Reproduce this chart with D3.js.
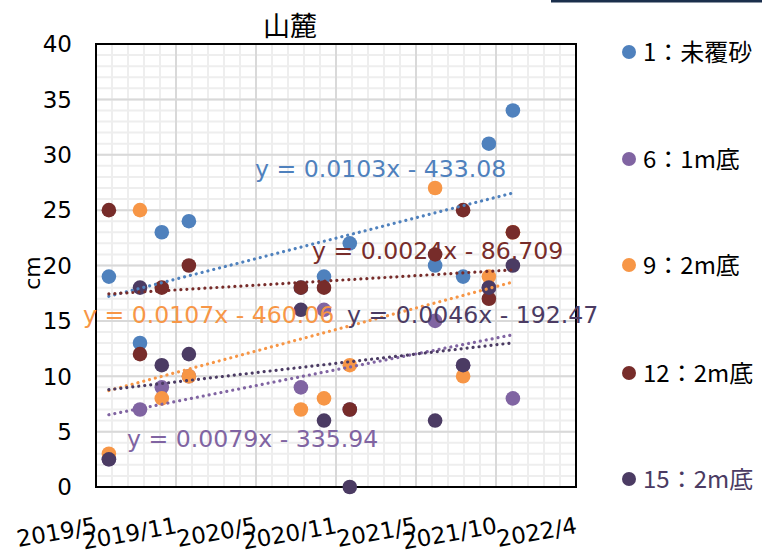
<!DOCTYPE html>
<html>
<head>
<meta charset="utf-8">
<script src="https://cdn.jsdelivr.net/npm/d3@7"></script>
<style>
  html, body { margin: 0; padding: 0; background: #fff; }
  svg { display: block; }
</style>
</head>
<body>
<svg id="chart" width="762" height="554"></svg>
<script>
// ---- data ----
const dates = ["2019-06-11","2019-08-20","2019-10-08","2019-12-08","2020-08-16","2020-10-07",
               "2020-12-04","2021-06-14","2021-08-16","2021-10-13","2021-12-06"];
const s1  = [19, 13, 23, 24, 18, 19, 22, 20, 19, 31, 34];
const s6  = [2.5, 7, 9, 10, 9, 16, 7, 15, 11, 18, 8];
const s9  = [3, 25, 8, 10, 7, 8, 11, 27, 10, 19, 23];
const s12 = [25, 12, 18, 20, 18, 18, 7, 21, 25, 17, 23];
const s15 = [2.5, 18, 11, 12, 16, 6, 0, 6, 11, 18, 20];
const seriesNames = ["1：未覆砂", "6：1m底", "9：2m底", "12：2m底", "15：2m底"];
const equations = ["y = 0.0103x - 433.08", "y = 0.0079x - 335.94", "y = 0.0107x - 460.06",
                   "y = 0.0024x - 86.709", "y = 0.0046x - 192.47"];
const xTickDates = ["2019-05-13","2019-11-09","2020-05-07","2020-11-03","2021-05-02","2021-10-29","2022-04-27"];
const xTickLabels = ["2019/5","2019/11","2020/5","2020/11","2021/5","2021/10","2022/4"];
const yTicks = [0, 5, 10, 15, 20, 25, 30, 35, 40];
const title = "山麓";
const yTitle = "cm";

// ---- layout ----
const colors = ["#4f81bd", "#8064a2", "#f79646", "#772c2a", "#4b3b63"];
const legendTextColors = ["#000", "#000", "#000", "#000", "#4b3b63"];
const L = 96, R = 576, T = 44, B = 487;
const svg = d3.select("#chart");
svg.append("rect").attr("width", 762).attr("height", 554).attr("fill", "#fff");

const parse = d3.utcParse("%Y-%m-%d");
const tickD = xTickDates.map(parse);
const x = d3.scaleUtc().domain([tickD[0], tickD[tickD.length - 1]]).range([L, R]);
const y = d3.scaleLinear().domain([0, 40]).range([B, T]);

// minor grid
const minorX = d3.utcDay.range(tickD[0], d3.utcDay.offset(tickD[tickD.length - 1], 1), 1)
  .filter((d, i) => i % 36 === 0);
const g = svg.append("g");
g.selectAll(".mx").data(minorX).enter().append("line")
  .attr("x1", d => x(d)).attr("x2", d => x(d)).attr("y1", T).attr("y2", B)
  .attr("stroke", "#eeeeee").attr("stroke-width", 2);
g.selectAll(".my").data(d3.range(0, 41, 1)).enter().append("line")
  .attr("x1", L).attr("x2", R).attr("y1", d => y(d)).attr("y2", d => y(d))
  .attr("stroke", "#eeeeee").attr("stroke-width", 2);
// major grid
g.selectAll(".Mx").data(tickD).enter().append("line")
  .attr("x1", d => x(d)).attr("x2", d => x(d)).attr("y1", T).attr("y2", B)
  .attr("stroke", "#d9d9d9").attr("stroke-width", 2);
g.selectAll(".My").data(yTicks).enter().append("line")
  .attr("x1", L).attr("x2", R).attr("y1", d => y(d)).attr("y2", d => y(d))
  .attr("stroke", "#d9d9d9").attr("stroke-width", 2);

// plot border
svg.append("rect").attr("x", L).attr("y", T).attr("width", R - L).attr("height", B - T)
  .attr("fill", "none").attr("stroke", "#000").attr("stroke-width", 2);

// y tick labels
svg.selectAll(".yt").data(yTicks).enter().append("text")
  .attr("x", 72).attr("y", d => y(d)).attr("dy", "0.36em")
  .attr("text-anchor", "end").attr("font-family", "DejaVu Sans").attr("font-size", 23)
  .attr("fill", "#000").text(d => d);

// x tick labels (rotated)
svg.selectAll(".xt").data(tickD).enter().append("text")
  .attr("transform", d => `translate(${x(d) + 2},533) rotate(-10)`)
  .attr("text-anchor", "end").attr("font-family", "DejaVu Sans").attr("font-size", 23)
  .attr("fill", "#000").text((d, i) => xTickLabels[i]);

// titles
svg.append("text").attr("x", 290).attr("y", 36).attr("text-anchor", "middle")
  .attr("font-family", "Noto Sans CJK JP").attr("font-size", 27).attr("fill", "#000").text(title);
svg.append("text").attr("transform", "translate(40,273) rotate(-90)").attr("text-anchor", "middle")
  .attr("font-family", "DejaVu Sans").attr("font-size", 22).attr("fill", "#000").text(yTitle);

// series
const allSeries = [s1, s6, s9, s12, s15];
const xd = dates.map(parse);
allSeries.forEach((vals, si) => {
  svg.append("g").selectAll("circle").data(vals).enter().append("circle")
    .attr("cx", (d, i) => x(xd[i])).attr("cy", d => y(d)).attr("r", 7.3)
    .attr("fill", colors[si]);
});

// trendlines (least squares)
allSeries.forEach((vals, si) => {
  const xs = xd.map(d => d.getTime() / 86400000);
  const n = xs.length;
  const mx = d3.mean(xs), my = d3.mean(vals);
  let sxy = 0, sxx = 0;
  for (let i = 0; i < n; i++) { sxy += (xs[i] - mx) * (vals[i] - my); sxx += (xs[i] - mx) ** 2; }
  const b = sxy / sxx, a = my - b * mx;
  const x0 = d3.min(xs), x1 = d3.max(xs);
  svg.append("line")
    .attr("x1", x(new Date(x0 * 86400000))).attr("y1", y(a + b * x0))
    .attr("x2", x(new Date(x1 * 86400000))).attr("y2", y(a + b * x1))
    .attr("stroke", colors[si]).attr("stroke-width", 3.2)
    .attr("stroke-linecap", "round").attr("stroke-dasharray", "0.01 6");
});

// equation labels
const eqPos = [[255, 177], [127, 447], [83, 323], [312, 259], [347, 323]];
equations.forEach((t, i) => {
  svg.append("text").attr("x", eqPos[i][0]).attr("y", eqPos[i][1])
    .attr("font-family", "DejaVu Sans").attr("font-size", 23.6)
    .attr("fill", colors[i]).text(t);
});

// legend
const legY = [52, 159, 265, 373, 479];
seriesNames.forEach((nm, i) => {
  svg.append("circle").attr("cx", 629).attr("cy", legY[i]).attr("r", 7).attr("fill", colors[i]);
  svg.append("text").attr("x", 643).attr("y", legY[i]).attr("dy", "0.36em")
    .attr("font-family", "Noto Sans CJK JP").attr("font-size", 24)
    .attr("fill", legendTextColors[i]).text(nm);
});

// top-right frame fragment
svg.append("rect").attr("x", 551).attr("y", 0).attr("width", 211).attr("height", 2.5).attr("fill", "#1b2f4c");
</script>
</body>
</html>
